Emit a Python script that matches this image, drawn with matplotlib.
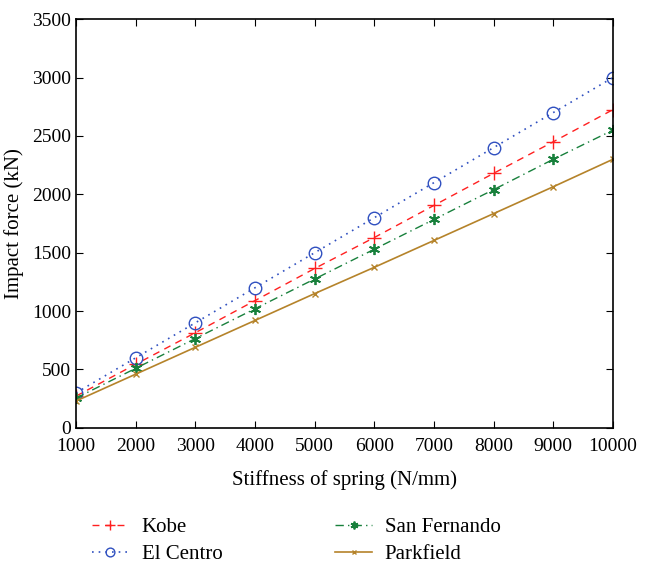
import matplotlib.pyplot as plt

plt.rcParams['font.family'] = ['Liberation Serif', 'DejaVu Serif']

stiffness = [1000, 2000, 3000, 4000, 5000, 6000, 7000, 8000, 9000, 10000]
kobe = [272, 545, 815, 1090, 1365, 1630, 1905, 2180, 2450, 2725]
el_centro = [300, 600, 900, 1200, 1500, 1800, 2100, 2400, 2700, 3000]
san_fernando = [255, 510, 765, 1020, 1275, 1530, 1785, 2040, 2300, 2550]
parkfield = [230, 460, 690, 920, 1150, 1375, 1605, 1835, 2065, 2300]

fig = plt.figure(figsize=(6.5, 5.63), dpi=100)
ax = fig.add_axes([0.117, 0.240, 0.826, 0.726])

ax.plot(stiffness, kobe, color='#ff2020', ls=(0, (5, 4)), lw=1, marker='+', ms=10, mew=1, label='Kobe')
ax.plot(stiffness, el_centro, color='#3050c0', ls=(0, (1, 3)), lw=1.2, marker='o', ms=9, mfc='none', mew=1, label='El Centro')
ax.plot(stiffness, san_fernando, color='#18803c', ls=(0, (6, 3, 1, 3)), lw=1, marker=(6, 2, 0), ms=8, mew=1.3, label='San Fernando')
ax.plot(stiffness, parkfield, color='#b5832a', ls='-', lw=1.2, marker='x', ms=4, mew=1, label='Parkfield')

ax.set_xlim(1000, 10000)
ax.set_ylim(0, 3500)
ax.set_xticks(stiffness)
ax.set_yticks(range(0, 3501, 500))
ax.tick_params(direction='in', top=True, right=True, labelsize=14, length=5)
ax.tick_params(axis='x', pad=7)
for s in ax.spines.values():
    s.set_linewidth(1.2)
ax.set_xlabel('Stiffness of spring (N/mm)', fontsize=15, labelpad=11)
ax.set_ylabel('Impact force (kN)', fontsize=15, labelpad=6)

handles, labels = ax.get_legend_handles_labels()
fig.legend(handles, labels, ncol=2, numpoints=1, markerscale=0.7,
           loc='lower left', bbox_to_anchor=(0.112, -0.035), frameon=False,
           fontsize=15, handlelength=1.8, handletextpad=0.6,
           columnspacing=5.4, labelspacing=0.35)

fig.savefig('out.png', dpi=100)
